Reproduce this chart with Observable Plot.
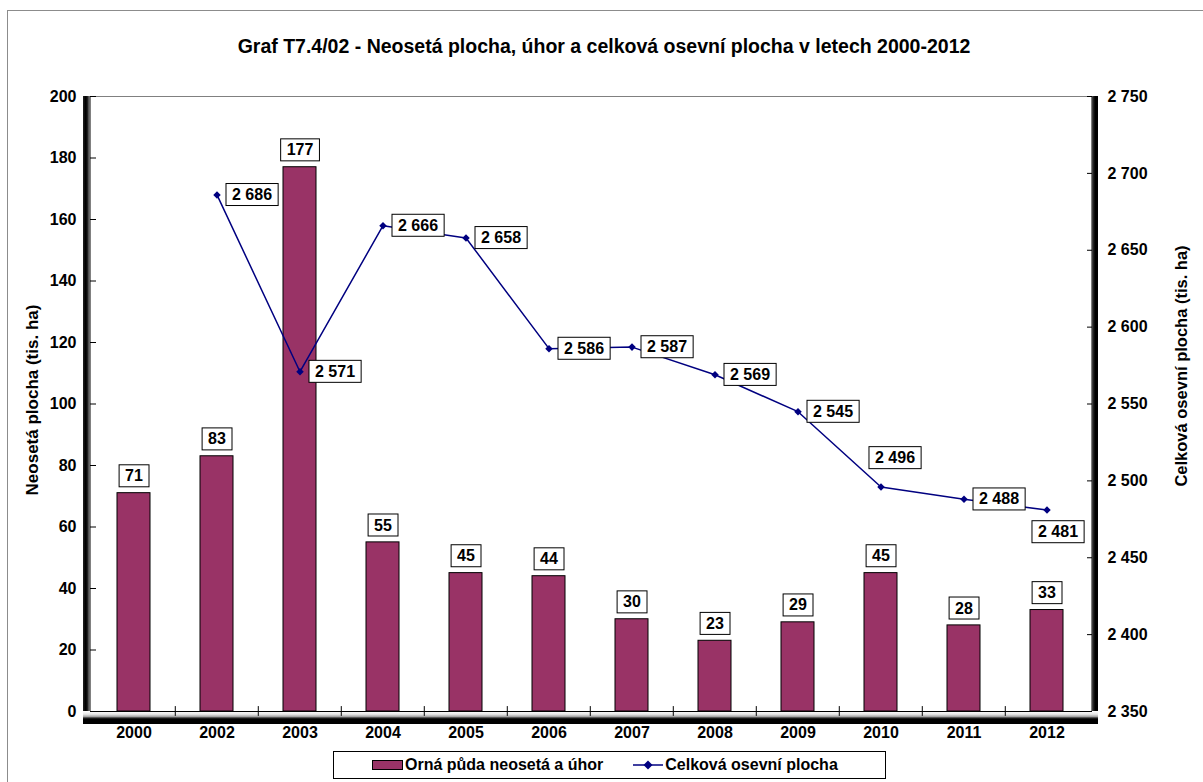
<!DOCTYPE html>
<html>
<head>
<meta charset="utf-8">
<script src="https://cdn.jsdelivr.net/npm/d3@7"></script>
<script src="https://cdn.jsdelivr.net/npm/@observablehq/plot@0.6"></script>
<style>
  html, body { margin: 0; padding: 0; background: #fff; }
  body { font-family: "Liberation Sans", Arial, sans-serif; color: #000; }
  #wrap { position: relative; width: 1203px; height: 782px; overflow: hidden; background: #fff; }
  #frame { position: absolute; left: 7px; top: 10px; width: 1200px; height: 800px; border: 1px solid #8c8c8c; }
  #title { position: absolute; left: 0; top: 35px; width: 1208px; text-align: center; font-weight: bold; font-size: 19.5px; line-height: 22px; }
  .wall { position: absolute; }
  #wallL { left: 83px; top: 96px; width: 7px; height: 628px; background: linear-gradient(to right, #222 0%, #000 35%, #111 60%, #777 90%, #444 100%); }
  #wallR { left: 1091px; top: 96px; width: 7px; height: 628px; background: linear-gradient(to right, #666 0%, #222 35%, #000 60%, #000 100%); }
  #floor { left: 83px; top: 711px; width: 1015px; height: 13px; background: linear-gradient(to bottom, #fff 0%, #e6e6e6 25%, #aaa 42%, #222 55%, #000 65%, #000 100%); }
  #chart { position: absolute; left: 0; top: 0; }
  .ytitle { position: absolute; font-weight: bold; white-space: nowrap; line-height: 18px; }
  #ytl { font-size: 17px; }
  #ytr { font-size: 16.5px; }
  #legend { position: absolute; left: 333px; top: 751px; width: 551px; height: 26px; border: 1px solid #000; background: #fff;
            display: flex; align-items: center; font-weight: bold; font-size: 16px; box-sizing: content-box; }
  #legend .sw { display: inline-block; width: 29px; height: 8px; background: #993366; border: 1px solid #000; margin-left: 38px; margin-right: 2px; }
  #legend .ln { display: inline-block; margin-left: 30px; margin-right: 2px; }
</style>
</head>
<body>
<div id="wrap">
  <div id="frame"></div>
  <div id="title"></div>
  <div class="wall" id="wallL"></div>
  <div class="wall" id="wallR"></div>
  <div class="wall" id="floor"></div>
  <div id="chart"></div>
  <div class="ytitle" id="ytl"></div>
  <div class="ytitle" id="ytr"></div>
  <div id="legend"></div>
</div>
<script>
// ---- data ----
const chartTitle = "Graf T7.4/02 - Neosetá plocha, úhor a celková osevní plocha v letech 2000-2012";
const leftAxisTitle = "Neosetá plocha (tis. ha)";
const rightAxisTitle = "Celková osevní plocha (tis. ha)";
const seriesNames = ["Orná půda neosetá a úhor", "Celková osevní plocha"];

const years = ["2000", "2002", "2003", "2004", "2005", "2006", "2007", "2008", "2009", "2010", "2011", "2012"];
const fallowArea = [71, 83, 177, 55, 45, 44, 30, 23, 29, 45, 28, 33];

const sownYears = ["2002", "2003", "2004", "2005", "2006", "2007", "2008", "2009", "2010", "2011", "2012"];
const sownArea = [2686, 2571, 2666, 2658, 2586, 2587, 2569, 2545, 2496, 2488, 2481];

const leftTicks = [0, 20, 40, 60, 80, 100, 120, 140, 160, 180, 200];
const rightTicks = [2350, 2400, 2450, 2500, 2550, 2600, 2650, 2700, 2750];

// label placement for the line labels (default: right of point)
const labelAbove = ["2010"];
const labelBelow = ["2012"];

// ---- helpers ----
const fmt = d3.formatLocale({decimal: ",", thousands: " ", grouping: [3], currency: ["", ""]}).format(",d");
const leftDomain = [leftTicks[0], leftTicks[leftTicks.length - 1]];
const rightDomain = [rightTicks[0], rightTicks[rightTicks.length - 1]];
const k = (leftDomain[1] - leftDomain[0]) / (rightDomain[1] - rightDomain[0]);
const toLeft = v => leftDomain[0] + (v - rightDomain[0]) * k;
const fromLeft = v => rightDomain[0] + (v - leftDomain[0]) / k;

const W = 1203, H = 782, mL = 90, mR = 112, mT = 96, mB = 71;
const step = (W - mL - mR) / years.length;

const bars = years.map((y, i) => ({year: y, value: fallowArea[i]}));
const sown = sownYears.map((y, i) => ({year: y, value: sownArea[i], ly: toLeft(sownArea[i])}));
const sownRight = sown.filter(d => !labelAbove.includes(d.year) && !labelBelow.includes(d.year));
const sownAbove = sown.filter(d => labelAbove.includes(d.year));
const sownBelow = sown.filter(d => labelBelow.includes(d.year));

const lbl = {fontSize: 16, fontWeight: "bold", fill: "#000"};
const FONT = "'Liberation Sans', Arial, sans-serif";

const plot = Plot.plot({
  width: W, height: H,
  marginLeft: mL, marginRight: mR, marginTop: mT, marginBottom: mB,
  style: {background: "transparent", fontFamily: FONT, color: "#000", overflow: "visible"},
  x: {type: "band", domain: years, paddingInner: 0.6, paddingOuter: 0.3},
  y: {domain: leftDomain},
  marks: [
    Plot.frame({stroke: "#808080"}),
    Plot.barY(bars, {x: "year", y: "value", fill: "#993366", stroke: "#000", strokeWidth: 1}),
    Plot.ruleY([0], {stroke: "#000", strokeWidth: 1}),
    Plot.ruleX(years.slice(1), {x: d => d, dx: -step / 2, y1: -1.6, y2: 1.6, stroke: "#000"}),
    Plot.axisX({tickSize: 0, tickPadding: 15, fontSize: 16, fontWeight: "bold", label: null}),
    Plot.axisY(leftTicks, {anchor: "left", tickSize: -6, tickPadding: 20, fontSize: 16, fontWeight: "bold", label: null}),
    Plot.axisY(rightTicks.map(toLeft), {anchor: "right", tickSize: -5, tickPadding: 21, tickFormat: d => fmt(fromLeft(d)),
      fontSize: 16, fontWeight: "bold", label: null}),
    Plot.line(sown, {x: "year", y: "ly", stroke: "#000080", strokeWidth: 1.5}),
    Plot.dot(sown, {x: "year", y: "ly", symbol: "diamond2", r: 3.4, fill: "#000080"}),
    Plot.text(bars, {x: "year", y: "value", text: d => fmt(d.value), dy: -17, ...lbl}),
    Plot.text(sownRight, {x: "year", y: "ly", text: d => fmt(d.value), textAnchor: "start", dx: 15, ...lbl}),
    Plot.text(sownAbove, {x: "year", y: "ly", text: d => fmt(d.value), dx: 14, dy: -29, ...lbl}),
    Plot.text(sownBelow, {x: "year", y: "ly", text: d => fmt(d.value), dx: 11, dy: 22, ...lbl})
  ]
});
document.getElementById("chart").appendChild(plot);

// white boxes with black border behind the data labels
plot.querySelectorAll('g[aria-label="text"] text').forEach(t => {
  const bb = t.getBBox();
  const r = document.createElementNS("http://www.w3.org/2000/svg", "rect");
  r.setAttribute("x", bb.x - 6);
  r.setAttribute("y", bb.y - 2.5);
  r.setAttribute("width", bb.width + 12);
  r.setAttribute("height", bb.height + 5);
  r.setAttribute("fill", "#fff");
  r.setAttribute("stroke", "#000");
  r.setAttribute("stroke-width", 1);
  const tr = t.getAttribute("transform");
  if (tr) r.setAttribute("transform", tr);
  t.parentNode.insertBefore(r, t);
});

// titles
document.getElementById("title").textContent = chartTitle;
function placeRotated(id, text, cx, cy) {
  const el = document.getElementById(id);
  el.textContent = text;
  const w = el.offsetWidth, h = el.offsetHeight;
  el.style.left = (cx - w / 2) + "px";
  el.style.top = (cy - h / 2) + "px";
  el.style.transform = "rotate(-90deg)";
}
placeRotated("ytl", leftAxisTitle, 33, 400);
placeRotated("ytr", rightAxisTitle, 1180, 366);

// legend
const leg = document.getElementById("legend");
leg.innerHTML = "";
const sw = document.createElement("span"); sw.className = "sw"; leg.appendChild(sw);
const t1 = document.createElement("span"); t1.textContent = seriesNames[0]; leg.appendChild(t1);
const ln = document.createElementNS("http://www.w3.org/2000/svg", "svg");
ln.setAttribute("width", 30); ln.setAttribute("height", 12); ln.setAttribute("class", "ln");
ln.innerHTML = '<line x1="0" y1="6" x2="30" y2="6" stroke="#000080" stroke-width="1.5"/>' +
               '<path d="M15,1.5L19.5,6L15,10.5L10.5,6Z" fill="#000080"/>';
leg.appendChild(ln);
const t2 = document.createElement("span"); t2.textContent = seriesNames[1]; leg.appendChild(t2);
</script>
</body>
</html>
